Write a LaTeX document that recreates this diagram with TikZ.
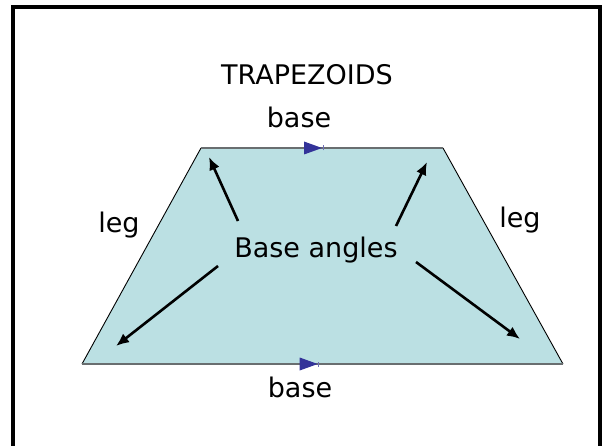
\documentclass[tikz,border=0pt]{standalone}
\usepackage{fontspec}
\setmainfont{DejaVu Sans}
\usetikzlibrary{arrows.meta,decorations.markings}
\definecolor{trapfill}{RGB}{187,224,227}
\definecolor{basegray}{RGB}{105,110,112}
\definecolor{markblue}{RGB}{51,51,153}

\begin{document}
\begin{tikzpicture}[
  x=1pt,y=-1pt,
  >={Latex[length=13pt,width=11pt]},
  lbl/.style={anchor=base,font=\fontsize{27}{32}\selectfont,inner sep=0pt},
  pointer/.style={->,line width=2.6pt},
  leg/.style={line width=0.9pt},
  basemark/.style={postaction={decorate,decoration={markings,
    mark=at position #1 with {
      \fill[markblue] (-18pt,-6.5pt) -- (0pt,0pt) -- (-18pt,6.5pt) -- cycle;
      \draw[markblue!70,line width=0.8pt] (1pt,-2.5pt) -- (1pt,2.5pt);}}}}
]
\useasboundingbox (0,0) rectangle (604,446);
% frame of the slide
\draw[line width=3.2pt] (13,7) rectangle (600,470);

% corners of the trapezoid
\coordinate (A) at (82,364);
\coordinate (B) at (563,364);
\coordinate (C) at (443,148);
\coordinate (D) at (201,148);
\fill[trapfill] (A) -- (B) -- (C) -- (D) -- cycle;
\draw[leg] (A) -- (D);
\draw[leg] (B) -- (C);
\draw[basegray,line width=2pt,basemark=0.5] (D) -- (C);
\draw[basegray,line width=2pt,basemark=0.49] (A) -- (B);

\node[lbl] (title) at (307,85) {TRAPEZOIDS};
\node[lbl] (topbase) at (299,128) {base};
\node[lbl] (botbase) at (300,397) {base};
\node[lbl] (legL) at (119,233) {leg};
\node[lbl] (legR) at (520,227) {leg};
\node[lbl] (angles) at (316,257) {Base angles};

% pointers to the base angles
\coordinate (s1) at (238,221); \coordinate (t1) at (209,157);
\coordinate (s2) at (396,226); \coordinate (t2) at (427,162);
\coordinate (s3) at (218,266); \coordinate (t3) at (116,346);
\coordinate (s4) at (416,262); \coordinate (t4) at (520,339);
\foreach \i in {1,...,4}
  \draw[pointer] (s\i) -- (t\i);
\end{tikzpicture}
\end{document}
